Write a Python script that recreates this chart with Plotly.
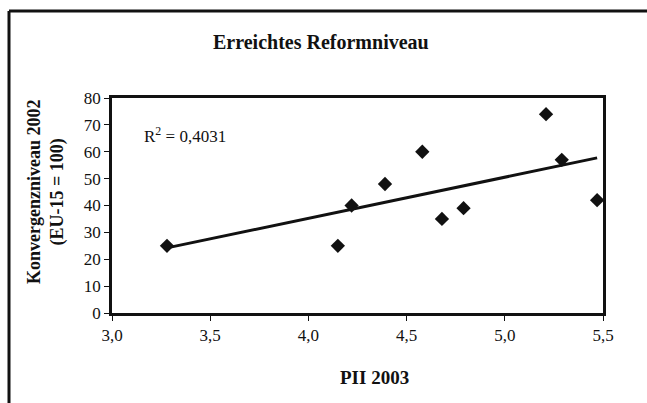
import numpy as np
import plotly.graph_objects as go

# PII 2003 score vs. convergence level 2002 (EU-15 = 100)
pii_2003 = [3.28, 4.15, 4.22, 4.39, 4.58, 4.68, 4.79, 5.21, 5.29, 5.47]
konvergenz_2002 = [25, 25, 40, 48, 60, 35, 39, 74, 57, 42]
r2_label = "R<sup>2</sup> = 0,4031"
x_ticks = [3.0, 3.5, 4.0, 4.5, 5.0, 5.5]
y_ticks = [0, 10, 20, 30, 40, 50, 60, 70, 80]

W, H = 647, 403
ML, MR, MT, MB = 112, 44, 98, 90
PW, PH = W - ML - MR, H - MT - MB


def px_x(px):
    return (px - ML) / PW


def px_y(py):
    return (H - MB - py) / PH


FONT = "Liberation Serif, Times New Roman, serif"

# linear trend line over the data range
slope, intercept = np.polyfit(pii_2003, konvergenz_2002, 1)
trend_x = [min(pii_2003), max(pii_2003)]
trend_y = [slope * v + intercept for v in trend_x]

fig = go.Figure()
fig.add_trace(go.Scatter(
    x=trend_x, y=trend_y, mode="lines",
    line=dict(color="#111", width=3), hoverinfo="skip", showlegend=False,
))
fig.add_trace(go.Scatter(
    x=pii_2003, y=konvergenz_2002, mode="markers",
    marker=dict(symbol="diamond", size=11, color="#111"),
    showlegend=False,
))

axis_common = dict(
    showgrid=False, zeroline=False, showline=True, mirror=True,
    linecolor="#111", linewidth=2.5, ticks="outside", ticklen=5,
    tickwidth=1.2, tickcolor="#111",
    tickfont=dict(family=FONT, size=17, color="#111"),
)
fig.update_xaxes(range=[3.0, 5.5], tickvals=x_ticks, tickformat=".1f", **axis_common)
fig.update_yaxes(range=[0, 80], tickvals=y_ticks, **axis_common)

annotations = [
    dict(text="<b>Erreichtes Reformniveau</b>", x=px_x(321), y=px_y(42),
         font=dict(size=20)),
    dict(text="<b>PII 2003</b>", x=px_x(374), y=px_y(377), font=dict(size=19)),
    dict(text="<b>Konvergenzniveau 2002<br>(EU-15 = 100)</b>", x=px_x(46),
         y=px_y(192), textangle=-90, font=dict(size=18)),
    dict(text=r2_label, x=px_x(142), y=px_y(135), xanchor="left",
         font=dict(size=17)),
]
for a in annotations:
    a.setdefault("xanchor", "center")
    a.update(xref="paper", yref="paper", yanchor="middle", showarrow=False)
    a["font"].update(family=FONT, color="#111")

# outer frame around the figure (left and top edges visible)
frame_l, frame_t = px_x(9), px_y(11)
shapes = [
    dict(type="line", xref="paper", yref="paper", x0=frame_l, x1=frame_l,
         y0=px_y(410), y1=frame_t, line=dict(color="#111", width=3)),
    dict(type="line", xref="paper", yref="paper", x0=frame_l, x1=px_x(660),
         y0=frame_t, y1=frame_t, line=dict(color="#111", width=3)),
]

fig.update_layout(
    width=W, height=H, margin=dict(l=ML, r=MR, t=MT, b=MB),
    paper_bgcolor="white", plot_bgcolor="white",
    separators=",.", annotations=annotations, shapes=shapes,
    font=dict(family=FONT, color="#111"),
)

fig.write_html("out.html")
